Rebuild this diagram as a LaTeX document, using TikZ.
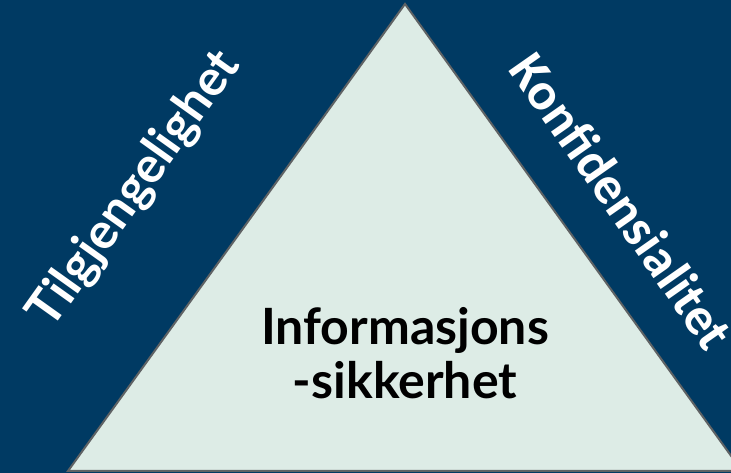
\documentclass[tikz,border=0pt]{standalone}
\usepackage{fontspec}
\newfontfamily\latobold{Lato}
\newfontfamily\calib{Carlito}
\definecolor{navy}{HTML}{003A63}
\definecolor{mint}{HTML}{DDECE6}
\definecolor{edge}{HTML}{5F6264}
\begin{document}
\begin{tikzpicture}[x=1pt,y=1pt,
  side/.style={text=white,inner sep=0pt,anchor=center},
  core/.style={text=black,align=center,inner sep=0pt,
    font=\fontsize{50}{54}\latobold\bfseries}]
  % canvas
  \fill[navy] (0,0) rectangle (731,473);
  \useasboundingbox (0,0) rectangle (731,473);
  % triangle
  \coordinate (apex) at (405,469);
  \coordinate (bl) at (68,2);
  \coordinate (br) at (742,2);
  \begin{scope}
    \clip (0,0) rectangle (731,473);
    \filldraw[fill=mint,draw=edge,line width=2pt,line join=miter] (apex) -- (br) -- (bl) -- cycle;
  \end{scope}
  % labels
  \node[side,rotate=54.5,font=\fontsize{50}{50}\latobold\bfseries] (avail) at (135,283) {Tilgjengelighet};
  \node[side,rotate=-55,font=\fontsize{53}{53}\calib\bfseries] (conf) at (622,272) {Konfidensialitet};
  \node[core] (info) at (405,120) {Informasjons\\-sikkerhet};
\end{tikzpicture}
\end{document}
